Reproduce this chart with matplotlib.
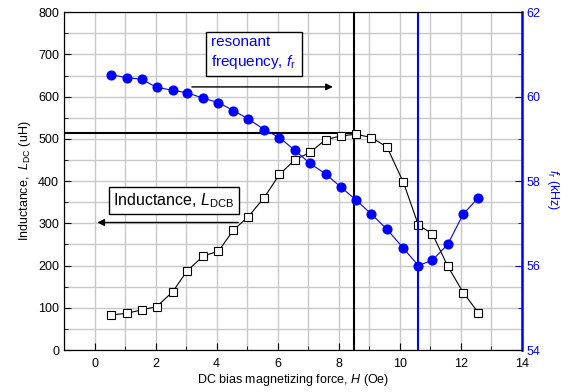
import matplotlib

matplotlib.use("Agg")
import matplotlib.pyplot as plt
from matplotlib.ticker import MultipleLocator

plt.rcParams["font.family"] = ["Liberation Sans", "DejaVu Sans"]
plt.rcParams["mathtext.fontset"] = "custom"
plt.rcParams["mathtext.rm"] = "Liberation Sans"
plt.rcParams["mathtext.it"] = "Liberation Sans:italic"

# DC bias field (Oe)
h = [0.54, 1.05, 1.54, 2.04, 2.56, 3.04, 3.57, 4.06, 4.55, 5.04, 5.56, 6.06, 6.56,
     7.06, 7.57, 8.07, 8.57, 9.07, 9.58, 10.12, 10.61, 11.07, 11.57, 12.08, 12.58]
# inductance (uH)
l_dc = [83, 87, 95, 103, 138, 188, 223, 234, 284, 316, 361, 416, 450,
        468, 498, 507, 511, 503, 481, 397, 296, 275, 199, 136, 88]
# resonant frequency (kHz)
f_r = [60.52, 60.45, 60.41, 60.22, 60.15, 60.09, 59.96, 59.86, 59.67, 59.47,
       59.22, 59.03, 58.73, 58.42, 58.17, 57.86, 57.55, 57.22, 56.86, 56.41,
       56.00, 56.13, 56.50, 57.22, 57.61]

h_peak, l_peak = 8.49, 513
h_min = 10.61

BLUE = "#0000ff"

fig = plt.figure(figsize=(5.68, 3.92), dpi=100)
ax = fig.add_axes([0.1127, 0.107, 0.806, 0.862])
ax2 = ax.twinx()

# grid + limits
ax.set_xlim(-1, 14)
ax.set_ylim(0, 800)
ax2.set_ylim(54, 62)
ax.xaxis.set_major_locator(MultipleLocator(2))
ax.xaxis.set_minor_locator(MultipleLocator(1))
ax.yaxis.set_major_locator(MultipleLocator(100))
ax.yaxis.set_minor_locator(MultipleLocator(50))
ax2.yaxis.set_major_locator(MultipleLocator(2))
ax2.yaxis.set_minor_locator(MultipleLocator(1))
ax.grid(True, which="both", color="#c8c8c8", lw=1)
ax.set_axisbelow(True)

ax.tick_params(which="both", direction="in", labelsize=9, top=False)
ax.tick_params(which="major", length=5)
ax.tick_params(which="minor", length=3)
ax.tick_params(axis="x", pad=6)
ax2.tick_params(which="both", direction="in", colors=BLUE, labelsize=9)
ax2.tick_params(which="major", length=5)
ax2.tick_params(which="minor", length=3)
ax2.spines["right"].set_color(BLUE)
ax2.spines["right"].set_linewidth(1.8)

# guide lines
ax.axvline(h_peak, color="black", lw=1.5)
ax.plot([-1, 8.6], [l_peak, l_peak], color="black", lw=1.5)
ax2.axvline(h_min, color=BLUE, lw=1.5)

# data
ax.plot(h, l_dc, "-s", color="black", lw=0.8, ms=6, mfc="white", mec="black", mew=0.8, zorder=4)
ax2.plot(h, f_r, "-o", color=BLUE, lw=0.8, ms=6.3, zorder=4)

# labels
ax.set_xlabel("DC bias magnetizing force, $\\it{H}$ (Oe)", fontsize=9, labelpad=1)
ax.set_ylabel("Inductance,  $L_{\\rm DC}$ (uH)", fontsize=9)
fig.text(553 / 568, 1 - 190 / 392, "$f_{\\rm r}$ (kHz)", fontsize=9, color=BLUE,
         rotation=270, ha="center", va="center")

# callouts
ax.text(3.82, 703, "resonant\nfrequency, $f_{\\rm r}$", color=BLUE, fontsize=11,
        ha="left", va="center", linespacing=1.25,
        bbox=dict(boxstyle="square,pad=0.35", fc="white", ec="black", lw=1))
ax.annotate("", xy=(7.9, 623), xytext=(3.1, 623),
            arrowprops=dict(arrowstyle="-|>", color="black", lw=1, mutation_scale=10))
ax.text(0.62, 354, "Inductance, $L_{\\rm DCB}$", color="black", fontsize=11.5,
        ha="left", va="center",
        bbox=dict(boxstyle="square,pad=0.28", fc="white", ec="black", lw=1))
ax.annotate("", xy=(0, 302), xytext=(4.8, 302),
            arrowprops=dict(arrowstyle="-|>", color="black", lw=1, mutation_scale=10))

fig.savefig("out.png", dpi=100)
